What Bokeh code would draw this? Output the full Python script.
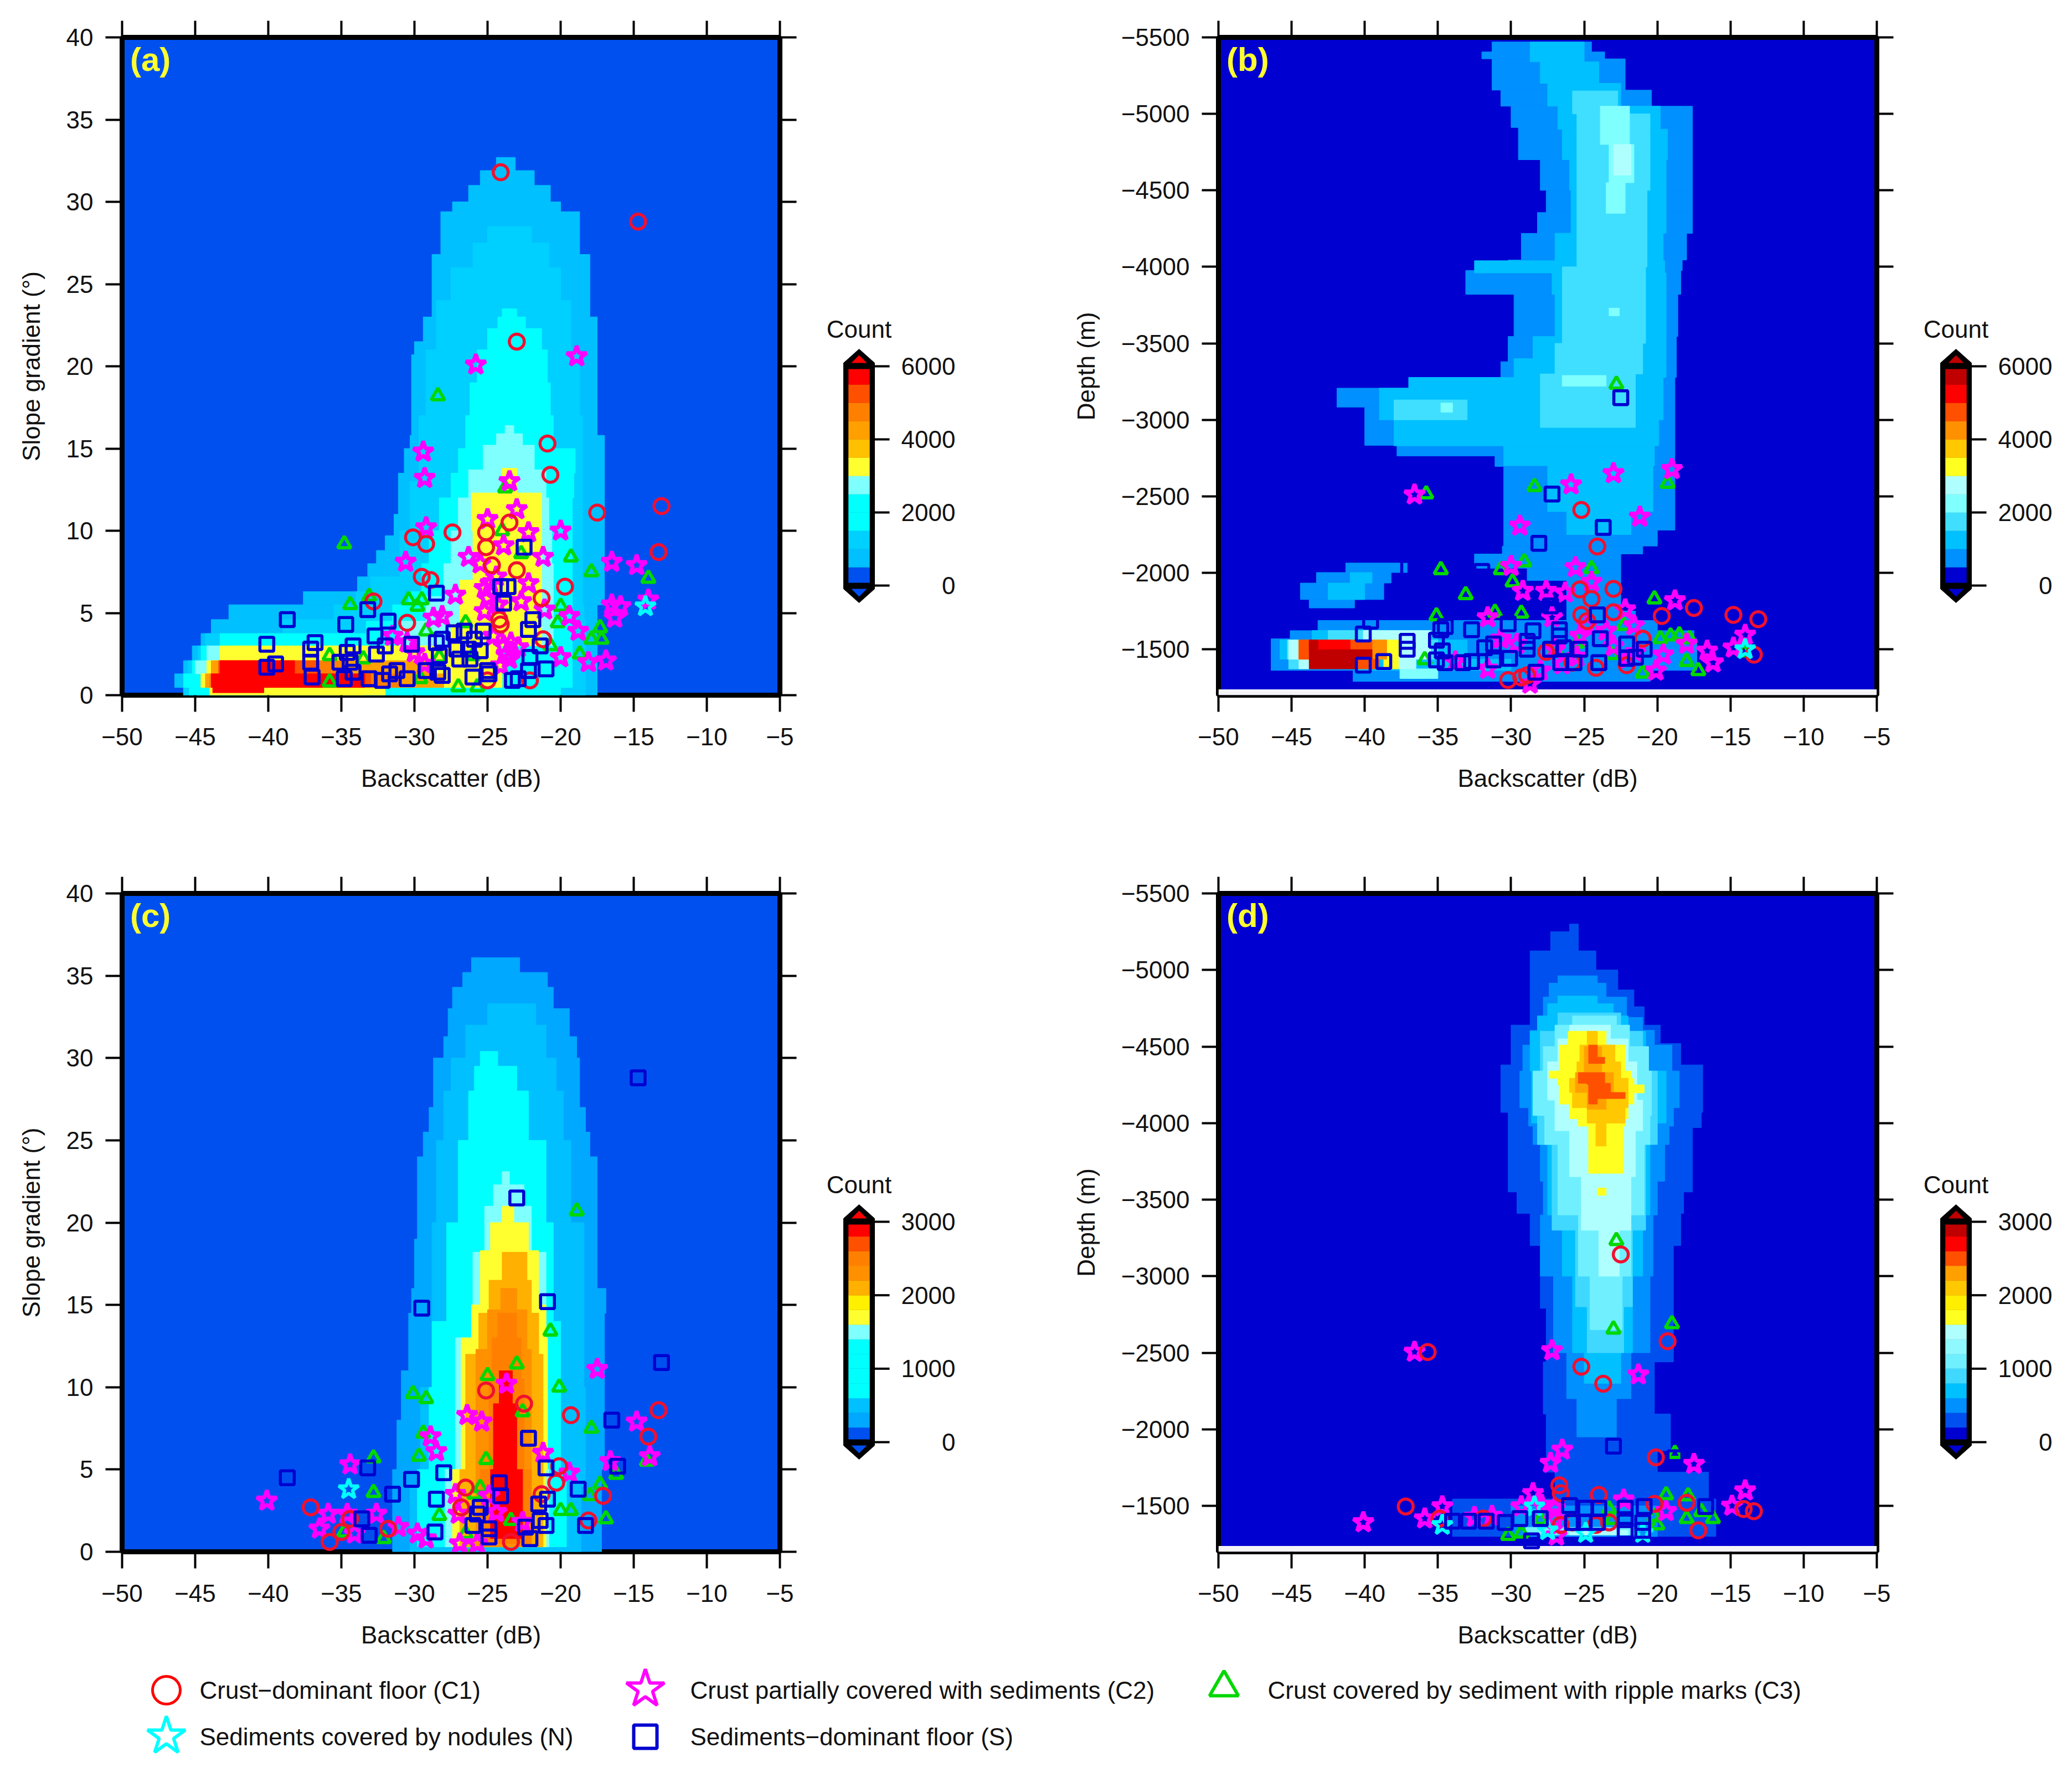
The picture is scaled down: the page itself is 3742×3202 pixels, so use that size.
from bokeh.plotting import figure
from bokeh.layouts import column, row
from bokeh.models import Range1d, FixedTicker, LinearAxis, ColumnDataSource
from bokeh.transform import linear_cmap
from bokeh.core.properties import value
from bokeh.embed import file_html
from bokeh.resources import INLINE

FONT = "Liberation Sans"
x_ticks = list(range(-50, 0, 5))
slope_ticks = list(range(0, 45, 5))
depth_ticks = list(range(-5500, -1000, 500))

pal_a = ["#0050F0", "#00C0FF", "#00D0FF", "#00FFFF", "#00FFFF", "#80FFFF", "#FFFF30", "#FFC000", "#FFA000", "#FF8000", "#FF5000", "#FF0000"]
pal_b = ["#0000D0", "#0090FF", "#00C0FF", "#40DFFF", "#80FFFF", "#B0FFFF", "#FFFF20", "#FFC800", "#FF9000", "#FF5000", "#FF0000", "#C00000"]
pal_c = ["#0050F0", "#00A8FF", "#00C0FF", "#00FFFF", "#00FFFF", "#00FFFF", "#00FFFF", "#80FFFF", "#FFFF30", "#FFF000", "#FFB000", "#FF9000", "#FF8000", "#FF5000", "#FF0000"]
pal_d = ["#0000D0", "#0050F0", "#0090FF", "#00C0FF", "#40D8FF", "#70F0FF", "#90F8FF", "#B0FFFF", "#FFFF20", "#FFEE00", "#FFC800", "#FFA000", "#FF5000", "#FF0000", "#C00000"]

# heat-map contours: (count, first edge, [(next edge, left dB, right dB), ...])
a_heat = [
 (500, 0, [(0.47,-45.8,-17.5),(1.3,-46.4,-17.5),(2.1,-45.8,-17.5),(3.0,-45.2,-17.5),(3.75,-44.6,-17.5),(4.6,-43.9,-17.5),(5.5,-42.7,-17.5),(6.3,-37.6,-17),(7.2,-33.9,-17),(8,-33.2,-17),(8.8,-32.6,-17),(9.7,-32,-17),(11,-31.4,-17),(13.5,-31.1,-17),(15,-30.7,-17),(15.8,-30.3,-17),(20.7,-30.2,-17.5),(21.5,-30,-17.5),(23,-29.4,-17.5),(26.8,-28.8,-18),(29.4,-28.2,-18.7),(30,-27.4,-20),(31,-26.3,-20.7),(31.9,-25.5,-21.8),(32.7,-24.4,-23.1)]),
 (1000, 0, [(1.3,-45.8,-18.3),(2.1,-45.5,-18.3),(3,-44.8,-18.3),(3.75,-44.3,-18.3),(4.6,-39,-18.3),(5.5,-35.5,-18.4),(6.3,-34,-18.5),(7.2,-33,-18.5),(10,-31,-18.5),(13,-30.3,-18.5),(17,-29.7,-18.5),(21,-29.2,-18.7),(24,-28.5,-19.3),(26,-27.5,-20),(27.5,-26,-20.8),(28.5,-25,-22)]),
 (1500, 0, [(0.47,-45.4,-20),(1.3,-45.8,-19.2),(2.1,-45.2,-19.2),(3,-44.6,-19.2),(3.75,-43.3,-19.2),(4.5,-33.3,-19.2),(5.5,-31.5,-19.2),(6.3,-30.4,-19.2),(8,-29.5,-19.2),(10,-29,-19.2),(12,-28.3,-19.2),(13.5,-27.5,-19.1),(15,-27,-19),(17,-26.5,-20.5),(19,-26.2,-20.7),(21,-25.7,-20.9),(22.3,-25,-21.3),(23,-24.3,-22.4),(23.5,-24,-23)]),
 (2500, 1.3, [(2.1,-45,-44),(3,-44.2,-43.3)]),
 (2500, 3, [(4.5,-31,-20.5),(6,-29.2,-20.5),(8,-28,-20.5),(10,-27.5,-20.6),(12,-27,-20.8),(13.7,-26.3,-21),(15.2,-25.3,-21.8),(15.9,-24.4,-22.6),(16.4,-23.8,-23.2)]),
 (3000, 0, [(0.47,-40,-32),(1.3,-44.6,-24),(2.1,-43.9,-24),(3,-43.3,-24)]),
 (3000, 3, [(4.3,-27.5,-21.3),(7,-26.9,-21.3),(10,-26,-21.3),(12.3,-26.1,-21.3),(13.8,-24,-23)]),
 (3500, 0, [(0.47,-44,-33.5),(1.3,-44.6,-26),(2.1,-44.2,-26.5),(3,-42.4,-41)]),
 (3500, 2.1, [(3,-36,-28)]),
 (3500, 3, [(4.3,-25.5,-22),(8,-25.2,-22),(10,-24.6,-22.6)]),
 (4000, 0.47, [(1.3,-44.3,-28),(2.1,-43.9,-29)]),
 (4500, 0.47, [(1.3,-44,-31),(2.1,-43.4,-34.5)]),
 (5000, 0.47, [(1.3,-43.9,-33),(2.1,-43.4,-36.5)]),
 (5500, 0.15, [(0.47,-43.8,-40.3),(1.3,-43.9,-33.4),(2.1,-43.3,-38.2)]),
]
b_heat = [
 (500, -1290, [(-1362,-40.8,-20.5),(-1569,-46.4,-17.3),(-1622,-45.1,-17.5),(-1689,-43.2,-20),(-1750,-26.2,-21.5),(-1950,-26.2,-22.5),(-2030,-28.9,-22.5),(-2123,-32.5,-22.5),(-2175,-30.6,-21),(-2279,-30.5,-20),(-2695,-30.5,-18.8),(-2764,-31.1,-18.8),(-2833,-37.8,-18.8),(-3083,-40,-18.8),(-3207,-41.9,-18.8),(-3277,-36.9,-18.8),(-3380,-30.7,-18.7),(-3545,-30.2,-18.7),(-3820,-29.8,-18.6),(-3976,-33.1,-18.4),(-4045,-30.2,-18.3),(-4219,-29.3,-18),(-4355,-28.2,-17.6),(-4500,-27.6,-17.6),(-4700,-28,-17.6),(-4911,-29.5,-17.6),(-5050,-30,-17.6),(-5155,-30.7,-20.4),(-5360,-31.3,-22.2),(-5405,-32,-23.6),(-5470,-31.3,-24.5)]),
 (500, -1933, [(-1825,-44.4,-38.7)]),
 (500, -1825, [(-1770,-43.8,-40.7)]),
 (500, -2002, [(-1933,-43.3,-38.2)]),
 (500, -2064, [(-2002,-41.3,-37.1)]),
 (1000, -1362, [(-1435,-40.7,-30),(-1561,-45.8,-33),(-1623,-43.6,-35)]),
 (1000, -1933, [(-2002,-41,-39.5)]),
 (1000, -1825, [(-1933,-42.5,-40)]),
 (1000, -2250, [(-2400,-26.2,-21.8),(-2700,-27.5,-20.3),(-2830,-30.5,-20.2),(-3000,-38,-19.9),(-3207,-39,-19.6),(-3277,-37,-19.6),(-3400,-29.8,-19.4),(-3545,-28.5,-19.4),(-3820,-27,-19.4),(-3960,-27.2,-19.4),(-4040,-32.5,-19.5),(-4220,-27,-19.6),(-4500,-25.9,-19.4),(-4700,-26,-19.4),(-4900,-26.5,-19.3),(-5050,-26.8,-19.8),(-5200,-27.5,-22.5),(-5340,-28,-24),(-5470,-28.7,-25)]),
 (1500, -2950, [(-3300,-28,-21.5),(-3500,-27,-21),(-4000,-26.5,-20.8),(-4500,-25.5,-20.7),(-5000,-25.5,-20.5),(-5150,-25.8,-22.7)]),
 (1500, -3000, [(-3130,-38,-33)]),
 (1500, -1372, [(-1435,-45.2,-44.5),(-1561,-45.3,-35),(-1623,-42.5,-40.1)]),
 (2000, -4350, [(-4550,-23.5,-22.2),(-4800,-23.3,-21.6),(-5050,-23.9,-21.9)]),
 (2000, -3220, [(-3290,-26.5,-23.5)]),
 (2000, -3050, [(-3110,-34.8,-34)]),
 (2000, -3680, [(-3730,-23.3,-22.6)]),
 (2000, -1309, [(-1372,-37.6,-35)]),
 (2500, -4600, [(-4800,-23,-21.8)]),
 (2500, -1372, [(-1435,-44.5,-43.8)]),
 (2500, -1561, [(-1623,-40.1,-35.5)]),
 (2500, -1372, [(-1435,-37.7,-36.5),(-1561,-37.7,-35.5)]),
 (2500, -1435, [(-1561,-45.2,-44.5)]),
 (3000, -1372, [(-1435,-38.7,-37.7)]),
 (3500, -1435, [(-1561,-44.5,-37.7)]),
 (4000, -1435, [(-1561,-44.5,-38.5)]),
 (4500, -1372, [(-1435,-40.6,-39)]),
 (4500, -1435, [(-1561,-44.5,-39.5)]),
 (5000, -1498, [(-1561,-43.8,-41)]),
 (5500, -1372, [(-1435,-43.8,-40.6),(-1498,-43.8,-39.5),(-1561,-43.8,-43.2)]),
]
c_heat = [
 (200, 0, [(5,-31.5,-17.2),(8,-31.2,-17),(11,-30.9,-17),(14.5,-30.4,-17),(16,-30.2,-16.9),(19,-30,-17.5),(24,-29.8,-17.5),(25.5,-29.4,-18),(27,-29,-18.3),(30,-28.7,-18.7),(31.3,-28,-18.9),(33,-27.7,-19.4),(34.3,-27.4,-20.5),(35.2,-26.7,-20.9),(36.1,-26.1,-22.8)]),
 (400, 0, [(4,-30.3,-18.6),(10,-29.6,-18.3),(20,-28.8,-18.4),(25,-28.5,-19.3),(28,-28,-19.8),(30,-27.5,-20.3),(32,-26.5,-21),(33.3,-25,-21.7)]),
 (600, 0.3, [(5,-29.8,-19.6),(10,-29,-20),(14,-28.8,-20),(20,-27.8,-20.5),(25,-27,-21),(28,-26.3,-22.2),(29.5,-25.9,-23),(30.4,-25.5,-24.3)]),
 (1400, 0.3, [(5,-27.9,-20.8),(13,-27.2,-20.9),(18.2,-26,-21),(21,-25.2,-22),(22.3,-24.6,-22.5),(23.1,-24,-23.5)]),
 (1600, 0.3, [(5,-27.4,-21),(13,-26.8,-20.9),(15,-26.1,-21),(18.3,-25.5,-21.5),(20,-24.8,-22.2),(21,-24,-23.2)]),
 (2000, 0.3, [(5,-26.9,-21.2),(12,-26.5,-21.2),(14.5,-25.6,-21.5),(16.5,-24.9,-22),(18.2,-24,-22.3)]),
 (2200, 0.3, [(12.3,-25.8,-22),(14.7,-25,-22.3),(16,-24.1,-23)]),
 (2600, 0.5, [(5,-25.5,-22),(10.5,-24.9,-22.5),(13,-24.7,-22.7),(14.5,-24.3,-23)]),
 (2800, 0.8, [(5,-24.8,-22.6),(9,-24.6,-23),(11,-24.2,-23.3)]),
]
d_heat = [
 (200, -1300, [(-1545,-34,-16),(-1720,-27,-16.5),(-1860,-27.6,-20),(-2100,-27.6,-19.1),(-2440,-27.8,-20.2),(-2790,-27.6,-18.9),(-3200,-28,-18.9),(-3410,-28.7,-18.4),(-3550,-29.6,-18.2),(-3970,-30.2,-17.6),(-4070,-30.2,-17),(-4380,-30.7,-16.9),(-4520,-30,-18.4),(-4640,-30,-19.8),(-4760,-28.7,-20.9),(-4870,-28.7,-21.6),(-5000,-28.7,-22.7),(-5125,-28.7,-24.2),(-5250,-27.3,-25.4),(-5300,-26,-25.4)]),
 (400, -1300, [(-1500,-30,-20)]),
 (400, -1950, [(-2200,-25.5,-22.8),(-2500,-26.2,-21.8),(-3000,-27.1,-20.5),(-3400,-28,-20.3),(-3620,-27.8,-20),(-3860,-28,-19.5),(-3980,-28.5,-19.2),(-4100,-28.8,-18.9),(-4340,-29.4,-18.5),(-4510,-29.2,-19),(-4606,-28.7,-20.2),(-4690,-28.2,-21),(-4823,-27.8,-22.1),(-4914,-27.4,-23.5),(-4962,-26.8,-24.1)]),
 (600, -2300, [(-2500,-25,-22.5),(-3000,-25.8,-21.7),(-3400,-26.5,-21),(-3860,-27.5,-20.5),(-4000,-28,-20.3),(-4340,-28.6,-19.4),(-4600,-28.7,-20.8),(-4700,-28.2,-22),(-4780,-27.5,-23),(-4830,-26.8,-24.1)]),
 (800, -2500, [(-2800,-24.8,-22.3),(-3300,-25.6,-21.7),(-3860,-27.2,-20.8),(-4340,-28.2,-20),(-4600,-28,-21),(-4720,-26.8,-22.5)]),
 (1000, -1310, [(-1360,-29,-21.5)]),
 (1000, -2650, [(-3000,-24.6,-22.4),(-3400,-25.4,-21.8),(-3860,-26.8,-20.9),(-4050,-27.7,-20.5),(-4340,-28.5,-20.4),(-4500,-27.8,-20.6),(-4640,-27,-21.9),(-4700,-25.8,-22.8)]),
 (1400, -1310, [(-1340,-26,-22)]),
 (1400, -3000, [(-3300,-24,-22.6),(-3650,-25.2,-21.8),(-3950,-26,-21.5),(-4150,-27,-21),(-4400,-27.5,-21.4),(-4550,-26.8,-22),(-4640,-26,-23.2)]),
 (1600, -3528, [(-3576,-24.1,-23.5)]),
 (1600, -3672, [(-3980,-24.7,-22.3),(-4028,-25.4,-22.2),(-4124,-26,-22),(-4197,-26.7,-21.6),(-4250,-26.7,-20.9),(-4293,-26.8,-21.6),(-4340,-27.4,-21.8),(-4510,-26.7,-22.2),(-4600,-26.1,-23.5)]),
 (2000, -3850, [(-4000,-24.2,-23.5),(-4100,-24.8,-22.2),(-4200,-25.8,-22),(-4293,-26,-22),(-4400,-25.5,-22.5),(-4510,-25.3,-22.9),(-4600,-24.8,-24.1)]),
 (2200, -4090, [(-4200,-24.8,-23.5),(-4293,-25.6,-23),(-4330,-25.6,-23),(-4500,-25,-23.8)]),
 (2400, -4124, [(-4160,-24.7,-24.1),(-4200,-24.7,-22.2),(-4260,-24.7,-23.2),(-4330,-25.4,-23.6)]),
 (2400, -4389, [(-4430,-24.7,-23.6),(-4510,-24.7,-24.1)]),
 (2600, -4251, [(-4293,-24.8,-24.1)]),
]

# sampling sites
a_c1 = [(-24.1,31.8),(-14.7,28.8),(-23,21.5),(-20.9,15.3),(-20.7,13.4),(-13.1,11.5),(-17.5,11.1),(-23.5,10.5),(-27.4,9.9),(-25.1,9.9),(-30.1,9.6),(-29.2,9.2),(-25.1,9),(-13.3,8.7),(-24.7,7.9),(-23,7.6),(-29.5,7.2),(-28.9,7),(-19.7,6.6),(-21.3,5.9),(-32.8,5.7),(-30.5,4.4),(-24.2,4.6),(-24.1,4.3),(-21.2,3.4),(-25,0.9),(-22.1,0.9)]
a_c2 = [(-18.9,20.6),(-25.8,20.1),(-29.4,14.8),(-29.3,13.2),(-23.5,13),(-23,11.3),(-25,10.7),(-29.2,10.2),(-20,10),(-22.2,9.9),(-23.9,9.1),(-26.3,8.4),(-21.2,8.4),(-30.6,8.1),(-16.5,8.1),(-14.8,7.9),(-25.5,8),(-22.2,6.8),(-27.2,6.1),(-25.2,6.5),(-25,5.9),(-22.7,5.7),(-14,5.8),(-16.5,5.5),(-15.9,5.4),(-21.1,5.2),(-25.2,5.1),(-16.3,4.7),(-28.7,4.7),(-28.1,4.8),(-19.4,4.8),(-18.8,3.9),(-31.5,3.6),(-23.9,3),(-23.7,2.5),(-23.5,2.2),(-20,2.3),(-18.1,2),(-16.9,2.1),(-24.6,3.6),(-30,2.6),(-23.4,3.2),(-24.4,7.2),(-24.3,5.5),(-24.8,6.8),(-22.9,2.9),(-24.1,1.8),(-30.5,3.2),(-29.3,1.9)]
a_c3 = [(-28.4,18.2),(-23.8,12.6),(-24,10),(-34.8,9.2),(-22.7,8.6),(-19.3,8.4),(-17.9,7.5),(-14,7.1),(-33.1,6),(-30.4,5.8),(-29.5,5.8),(-29.8,5.4),(-34.4,5.5),(-20,5.4),(-20.2,4.4),(-26.5,4.4),(-29.2,3.9),(-17.3,4.1),(-17.9,3.4),(-17.2,3.4),(-35.8,2.4),(-33.5,2.2),(-28.3,2.3),(-20.7,3),(-18.7,2.5),(-35.8,0.8),(-27,0.5),(-25.7,0.5),(-29.6,1),(-26,2.4)]
a_n = [(-14.2,5.4)]
a_s = [(-22.5,9),(-24.1,6.6),(-23.6,6.6),(-28.5,6.2),(-23.9,5.6),(-33.2,5.2),(-38.7,4.6),(-34.7,4.3),(-31.8,4.5),(-21.9,4.6),(-22.2,4),(-32.7,3.6),(-40.1,3.1),(-36.8,3.2),(-37.1,2.8),(-37.1,2),(-39.5,1.9),(-40.1,1.7),(-37,1.1),(-34.2,3),(-34.6,2.6),(-35.1,2),(-34.4,2),(-32,3),(-32.6,2.5),(-30.2,3.1),(-28.5,3.2),(-28.1,3.4),(-28.3,2.4),(-27.3,3.8),(-26.6,3.9),(-25.9,3.4),(-25.3,3.9),(-27.1,2.8),(-26.3,2.8),(-25.5,2.7),(-26.9,2.2),(-26.2,2.2),(-21.4,3),(-22.1,2.3),(-25,1.5),(-24.9,1.3),(-21,1.6),(-22.2,1.5),(-23.3,0.9),(-22.9,1),(-26,1.1),(-28.4,1.4),(-28.1,1.2),(-29.2,1.5),(-30.5,1),(-31.2,1.5),(-31.7,1.3),(-32.2,0.9),(-33.1,1),(-34.2,1.4),(-34.8,1)]

b_c1 = [(-25.2,-2411),(-24.1,-2172),(-25.3,-1891),(-23,-1895),(-24.5,-1829),(-17.5,-1770),(-25.2,-1725),(-23,-1742),(-19.7,-1718),(-14.8,-1725),(-13.1,-1697),(-24.8,-1684),(-21,-1569),(-13.4,-1465),(-22.1,-1396),(-30.2,-1299),(-29.3,-1316),(-25.8,-1413),(-24.2,-1379),(-27.6,-1483),(-28.9,-1330)]
b_c2 = [(-19,-2677),(-23,-2650),(-25.9,-2577),(-36.6,-2511),(-21.2,-2366),(-29.4,-2307),(-30,-2044),(-25.6,-2036),(-24.5,-1940),(-29.2,-1881),(-27.6,-1881),(-26.3,-1870),(-18.8,-1819),(-22.2,-1760),(-31.6,-1708),(-27.2,-1708),(-21.6,-1656),(-14,-1594),(-30.7,-1569),(-29.6,-1535),(-18,-1535),(-14.8,-1510),(-16.6,-1490),(-16.2,-1413),(-19.6,-1465),(-20.1,-1360),(-28.7,-1275),(-28,-1360),(-31.6,-1372),(-25.3,-1587),(-24.8,-1656),(-23.5,-1620),(-23,-1520),(-25.5,-1450),(-27,-1500),(-22,-1440),(-26.5,-1400),(-21.5,-1480),(-33.8,-1420)]
b_c3 = [(-22.8,-3232),(-35.8,-2515),(-19.3,-2584),(-28.4,-2563),(-29.1,-2071),(-34.8,-2020),(-30.7,-2020),(-24.5,-2027),(-29.9,-1940),(-33.1,-1857),(-20.2,-1829),(-35.1,-1718),(-31.1,-1742),(-29.3,-1735),(-22.3,-1656),(-19.8,-1569),(-19.1,-1587),(-18.5,-1594),(-17.8,-1569),(-35.9,-1431),(-18,-1420),(-17.2,-1360),(-21,-1344),(-14.1,-1483),(-23.1,-1465),(-27,-1500),(-25.5,-1540)]
b_n = [(-14,-1500)]
b_s = [(-22.5,-3145),(-27.2,-2515),(-23.7,-2297),(-28.1,-2193),(-32,-2009),(-37,-2030),(-27.3,-1784),(-24.1,-1725),(-39.6,-1684),(-40.1,-1600),(-34.5,-1649),(-34.8,-1628),(-32.7,-1628),(-30.2,-1666),(-28.5,-1621),(-26.7,-1628),(-26.7,-1587),(-35.1,-1559),(-37.1,-1552),(-37.1,-1500),(-34.7,-1490),(-38.7,-1420),(-40.1,-1396),(-35.1,-1431),(-34.5,-1413),(-33.3,-1413),(-32.7,-1420),(-31.2,-1431),(-31.8,-1510),(-31.2,-1535),(-30.1,-1441),(-28.9,-1552),(-28.9,-1500),(-27.3,-1500),(-26.4,-1510),(-26.6,-1413),(-25.7,-1413),(-25.3,-1500),(-24,-1413),(-23.9,-1569),(-22.1,-1535),(-20.9,-1500),(-21.5,-1448),(-22.1,-1441),(-28.3,-1350)]

c_c1 = [(-25.1,9.8),(-22.5,9),(-13.3,8.6),(-19.3,8.3),(-14,7),(-20.1,5.2),(-20.3,4.2),(-26.5,3.9),(-17.1,3.4),(-37.1,2.7),(-26.8,2.7),(-21.3,3.5),(-34.4,2),(-18.1,1.9),(-31.8,1.4),(-35,1.2),(-35.8,0.6),(-23.4,0.6)]
c_c2 = [(-17.5,11.1),(-23.7,10.2),(-26.4,8.3),(-25.4,7.9),(-14.8,7.9),(-28.9,7),(-28.5,6.1),(-21.2,6),(-13.9,5.8),(-16.6,5.5),(-34.4,5.3),(-19.4,4.8),(-27.2,3.5),(-24.9,3.4),(-40.1,3.1),(-32.6,2.3),(-35.9,2.3),(-27,2.3),(-24.4,2.4),(-31.1,1.5),(-36.5,1.4),(-34.1,1.1),(-29.8,1.1),(-29.2,0.8),(-26.9,0.5),(-25.7,0.5),(-34.6,2.3),(-22.6,1.8)]
c_c3 = [(-18.9,20.7),(-23,11.4),(-25,10.7),(-20.1,10),(-30.1,9.6),(-29.2,9.3),(-22.6,8.5),(-17.9,7.5),(-29.4,7.2),(-32.8,5.7),(-29.7,5.8),(-25.1,5.6),(-16.2,4.7),(-14.1,5.5),(-17.3,4.1),(-32.8,3.6),(-25.5,3.9),(-20,2.5),(-19.3,2.5),(-18,3.4),(-16.9,2),(-28.3,2.2),(-23.4,1.9),(-25.9,3.5),(-26.5,1.1),(-32.1,0.8),(-26.3,0.3),(-34.8,1.2),(-20.7,13.4)]
c_n = [(-34.5,3.8)]
c_s = [(-14.7,28.8),(-23,21.5),(-20.9,15.2),(-29.5,14.8),(-13.1,11.5),(-16.5,8),(-22.2,6.9),(-16.1,5.2),(-21,5.1),(-33.2,5.1),(-28,4.8),(-38.7,4.5),(-30.2,4.4),(-24.2,4.2),(-18.8,3.8),(-24.1,3.4),(-31.5,3.5),(-20.9,3.2),(-21.5,2.9),(-28.5,3.2),(-25.5,2.7),(-25.7,2.3),(-33.6,2),(-21.4,1.9),(-26,1.6),(-21,1.6),(-18.3,1.6),(-24.9,1.4),(-22.4,1.5),(-33.1,1),(-28.6,1.2),(-24.9,0.9),(-22.1,0.8)]

d_c1 = [(-22.5,-3142),(-19.3,-2575),(-35.7,-2505),(-25.2,-2409),(-23.7,-2298),(-26.7,-1634),(-26.6,-1582),(-24,-1572),(-20.1,-1817),(-37.2,-1496),(-18,-1520),(-20.2,-1513),(-14.1,-1479),(-13.4,-1465),(-34.9,-1417),(-31.9,-1417),(-17.2,-1340),(-25.8,-1392),(-23.3,-1392),(-24.2,-1375),(-26.6,-1375)]
d_c2 = [(-36.6,-2505),(-27.2,-2515),(-21.3,-2357),(-26.5,-1866),(-27.3,-1780),(-17.5,-1773),(-14,-1600),(-28.5,-1582),(-34.7,-1496),(-22.3,-1540),(-14.9,-1500),(-19.4,-1465),(-35.9,-1417),(-40.1,-1392),(-31.3,-1434),(-29.3,-1496),(-27,-1485),(-27,-1410),(-26.9,-1305),(-32.5,-1427),(-27.9,-1505)]
d_c3 = [(-22.8,-3232),(-23,-2654),(-19,-2689),(-18.8,-1842),(-19.4,-1572),(-17.9,-1565),(-18,-1417),(-17,-1462),(-16.2,-1417),(-30.2,-1306),(-29.3,-1322),(-23.3,-1479),(-20,-1375),(-23.1,-1410),(-28,-1410),(-20.2,-1430)]
d_n = [(-34.7,-1375),(-24.9,-1322),(-21,-1322),(-28.4,-1496),(-27.5,-1340)]
d_s = [(-23,-1890),(-18.8,-1814),(-26,-1502),(-24.9,-1485),(-24,-1485),(-22.2,-1485),(-20.9,-1496),(-16.7,-1496),(-29.4,-1417),(-28,-1417),(-25.8,-1392),(-25,-1392),(-24.1,-1392),(-22.2,-1410),(-22.2,-1340),(-21,-1392),(-21,-1340),(-28.6,-1271),(-34,-1400),(-32.9,-1400),(-31.7,-1400),(-30.4,-1392)]

classes = [
 ("triangle", "#00D800", 24, 6),
 ("star", "#FF00FF", 38, 7),
 ("circle", "#F01030", 27, 5.5),
 ("star", "#00FFFF", 38, 6),
 ("square", "#0000D0", 25, 5.5),
]
cls_order = ["c3", "c2", "c1", "n", "s"]
panel_points = {
 "a": dict(c1=a_c1, c2=a_c2, c3=a_c3, n=a_n, s=a_s),
 "b": dict(c1=b_c1, c2=b_c2, c3=b_c3, n=b_n, s=b_s),
 "c": dict(c1=c_c1, c2=c_c2, c3=c_c3, n=c_n, s=c_s),
 "d": dict(c1=d_c1, c2=d_c2, c3=d_c3, n=d_n, s=d_s),
}


def minus(v):
    return str(v).replace("-", "\u2212")


def heat_source(levels):
    L, R, B, T, C = [], [], [], [], []
    for count, start, rows in levels:
        prev = start
        for top, left, right in rows:
            L.append(left); R.append(right); B.append(prev); T.append(top); C.append(count)
            prev = top
    return ColumnDataSource(dict(left=L, right=R, bottom=B, top=T, count=C))


def style_axis(ax, ticks, labelled):
    ax.ticker = FixedTicker(ticks=ticks)
    ax.axis_line_color = None
    ax.major_tick_in = 0
    ax.major_tick_out = 30
    ax.major_tick_line_width = 4
    ax.major_tick_line_color = "black"
    ax.minor_tick_line_color = None
    if labelled:
        ax.major_label_text_font = FONT
        ax.major_label_text_font_size = "44px"
        ax.major_label_text_color = "#111111"
        ax.major_label_overrides = {t: minus(t) for t in ticks}
        ax.axis_label_text_font = FONT
        ax.axis_label_text_font_size = "44px"
        ax.axis_label_text_font_style = "normal"
        ax.axis_label_text_color = "#111111"
    else:
        ax.major_label_text_font_size = "0px"
        ax.major_label_text_color = None


def panel(key, levels, palette, vmax, slope, w, h, bl, bt, bb, ylabel):
    yr = Range1d(0, 40) if slope else Range1d(-1200, -5500)
    yt = slope_ticks if slope else depth_ticks
    p = figure(width=w, height=h, x_range=Range1d(-50, -5), y_range=yr, output_backend="svg",
               toolbar_location=None, min_border_left=bl, min_border_right=52,
               min_border_top=bt, min_border_bottom=bb, background_fill_color=palette[0])
    p.grid.visible = False
    p.outline_line_color = "black"
    p.outline_line_width = 9
    style_axis(p.xaxis[0], x_ticks, True)
    style_axis(p.yaxis[0], yt, True)
    p.xaxis[0].major_label_standoff = 29
    p.yaxis[0].major_label_standoff = 22
    p.xaxis[0].axis_label = "Backscatter (dB)"
    p.xaxis[0].axis_label_standoff = 32
    p.yaxis[0].axis_label = ylabel
    p.yaxis[0].axis_label_standoff = 36 if slope else 36
    top_ax = LinearAxis(); style_axis(top_ax, x_ticks, False); p.add_layout(top_ax, "above")
    right_ax = LinearAxis(); style_axis(right_ax, yt, False); p.add_layout(right_ax, "right")
    cmap = linear_cmap("count", palette, 0, vmax)
    p.quad(left="left", right="right", bottom="bottom", top="top", source=heat_source(levels),
           fill_color=cmap, line_color=cmap, line_width=1)
    if not slope:
        p.quad(left=[-50], right=[-5], bottom=[-1200], top=[-1238], fill_color="#F4F4F8", line_color=None)
    pts = panel_points[key]
    for name, (marker, col, size, lw) in zip(cls_order, classes):
        xs = [q[0] for q in pts[name]]
        ys = [q[1] for q in pts[name]]
        p.scatter(xs, ys, marker=marker, size=size, fill_color=None, line_color=col, line_width=lw)
    p.text([-49.45], [38.65 if slope else -5355], text=[f"({key})"], text_color="#FFFF30",
           text_font=value(FONT), text_font_style="bold", text_font_size="60px", text_baseline="middle")
    return p


def colorbar(palette, vmax, ticks, w, h, fig_x, frame_top, frame_bottom, cx, y_top, y_zero):
    # the row aligns this figure's frame with the frame of the panel next to it
    per_px = vmax / (y_zero - y_top)
    ystart = -(frame_bottom - y_zero) * per_px
    yend = vmax + (y_top - frame_top) * per_px
    c = figure(width=w, height=h, x_range=Range1d(fig_x, fig_x + w), y_range=Range1d(ystart, yend),
               output_backend="svg", toolbar_location=None, min_border=0,
               x_axis_location=None, y_axis_location=None, outline_line_color=None)
    c.grid.visible = False
    px = per_px
    c.patch([cx - 28, cx, cx + 28, cx + 28, cx, cx - 28],
            [vmax + 6 * px, vmax + 31 * px, vmax + 6 * px, -6 * px, -31 * px, -6 * px], fill_color="black", line_color="black")
    step = vmax / len(palette)
    c.quad(left=cx - 19, right=cx + 19, bottom=[i * step for i in range(len(palette))],
           top=[(i + 1) * step for i in range(len(palette))], fill_color=palette, line_color=palette, line_width=0.5)
    c.patch([cx - 14, cx, cx + 14], [vmax + 6 * px, vmax + 20 * px, vmax + 6 * px], fill_color=palette[-1], line_color=None)
    c.patch([cx - 14, cx, cx + 14], [-6 * px, -20 * px, -6 * px], fill_color=palette[0], line_color=None)
    c.segment([cx - 28, cx - 28], [0, vmax], [cx + 28, cx + 28], [0, vmax], line_color="black", line_width=10)
    c.segment([cx + 28] * len(ticks), ticks, [cx + 55] * len(ticks), ticks, line_color="black", line_width=4)
    c.text([cx + 174] * len(ticks), ticks, text=[str(t) for t in ticks], text_align="right", text_baseline="middle",
           text_font=value(FONT), text_font_size="44px", text_color="#111111")
    c.text([cx], [vmax + 67 * px], text=["Count"], text_align="center", text_baseline="middle",
           text_font=value(FONT), text_font_size="44px", text_color="#111111")
    return c


H1, H2, H3 = 1500, 1490, 204
W_A, W_CA, W_B, W_CB = 1460, 460, 1521, 293

pa = panel("a", a_heat, pal_a, 6000, True, W_A, H1, 220, 67, 245, "Slope gradient (\u00b0)")
pb = panel("b", b_heat, pal_b, 6000, False, W_B, H1, 280, 67, 245, "Depth (m)")
pc = panel("c", c_heat, pal_c, 3000, True, W_A, H2, 220, 113, 188, "Slope gradient (\u00b0)")
pd = panel("d", d_heat, pal_d, 3000, False, W_B, H2, 280, 113, 188, "Depth (m)")

ca = colorbar(pal_a, 6000, [0, 2000, 4000, 6000], W_CA, H1, 1460, 67, 1255, 1551, 661, 1057)
cb = colorbar(pal_b, 6000, [0, 2000, 4000, 6000], W_CB, H1, 3441, 67, 1255, 3532, 661, 1057)
cc = colorbar(pal_c, 3000, [0, 1000, 2000, 3000], W_CA, H2, 1460, 1613, 2802, 1551, 2206, 2604)
cd = colorbar(pal_d, 3000, [0, 1000, 2000, 3000], W_CB, H2, 3441, 1613, 2802, 3532, 2206, 2604)

legend_labels = ["Crust\u2212dominant floor (C1)", "Crust partially covered with sediments (C2)",
                 "Crust covered by sediment with ripple marks (C3)", "Sediments covered by nodules (N)",
                 "Sediments\u2212dominant floor (S)"]
leg = figure(width=3734, height=H3, x_range=Range1d(0, 3734), y_range=Range1d(2990 + H3, 2990),
             output_backend="svg", toolbar_location=None, min_border=0,
             x_axis_location=None, y_axis_location=None, outline_line_color=None)
leg.grid.visible = False
key_x = [300, 1165, 2210, 300, 1165]
key_y = [3052, 3050, 3047, 3135, 3136]
label_x = [360, 1246, 2289, 360, 1246]
label_y = [3052, 3052, 3052, 3136, 3136]
key_style = [("circle", "#FF0000", 50, 5), ("star", "#FF00FF", 72, 6), ("triangle", "#00D800", 52, 6),
             ("star", "#00FFFF", 72, 6), ("square", "#0000D0", 42, 6)]
for i, (marker, col, size, lw) in enumerate(key_style):
    leg.scatter([key_x[i]], [key_y[i]], marker=marker, size=size, fill_color=None, line_color=col, line_width=lw)
leg.text(label_x, label_y, text=legend_labels, text_baseline="middle", text_font=value(FONT),
         text_font_size="44px", text_color="#111111")

page = column(row(pa, ca, pb, cb, spacing=0), row(pc, cc, pd, cd, spacing=0), leg, spacing=0)
open("out.html", "w").write(file_html(page, INLINE))
